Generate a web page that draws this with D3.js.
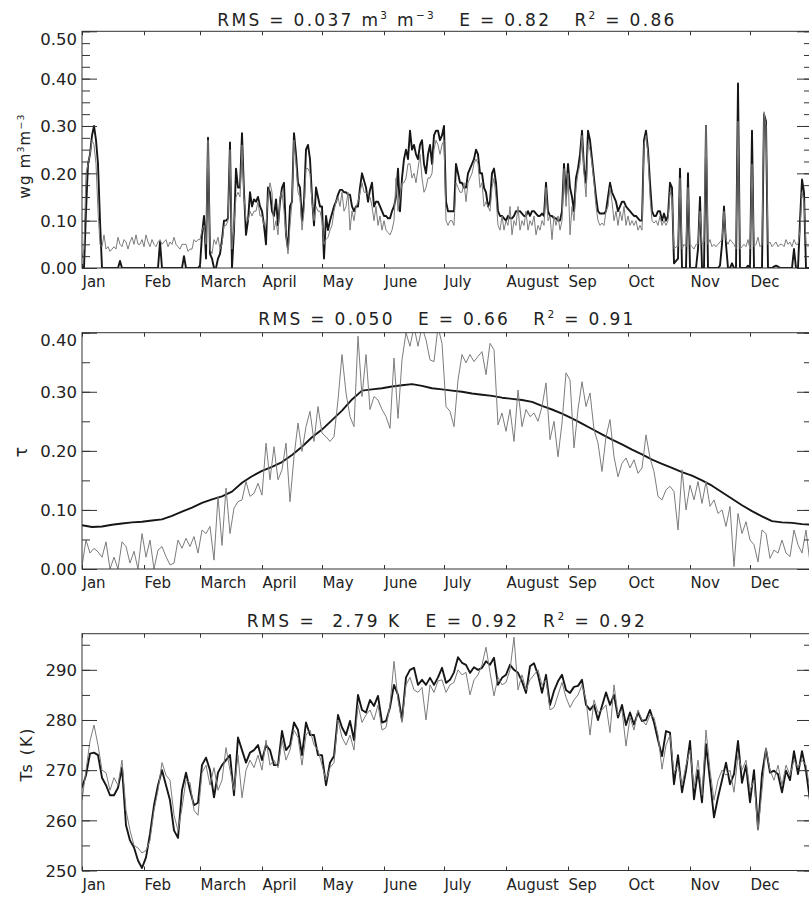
<!DOCTYPE html>
<html>
<head>
<meta charset="utf-8">
<title>Soil moisture, optical depth and surface temperature</title>
<script src="https://d3js.org/d3.v7.min.js"></script>
<style>
  body { margin: 0; background: #fff; }
  svg text { font-family: "DejaVu Sans", sans-serif; fill: #222; }
</style>
</head>
<body>
<svg width="809" height="897"></svg>
<script>
// month labels, placed at the first day of each month (day 0 = 1 Jan)
var months = ["Jan", "Feb", "March", "April", "May", "June", "July", "August", "Sep", "Oct", "Nov", "Dec"];
var monthStart = [0, 31, 59, 90, 120, 151, 181, 212, 243, 273, 304, 334];

// panel 1 : surface soil moisture wg (m3 m-3), one value per day
var wgStep = 1;
var wgModel = [
  0, 0, 0.12, 0.22, 0.24, 0.28, 0.30, 0.27, 0.22, 0.10,
  0, 0, 0, 0, 0, 0, 0, 0, 0, 0.015,
  0, 0, 0, 0, 0, 0, 0, 0, 0, 0,
  0, 0, 0, 0, 0, 0, 0, 0, 0, 0.055,
  0, 0, 0, 0, 0, 0, 0, 0, 0, 0,
  0, 0.025, 0, 0, 0, 0, 0, 0, 0, 0.005,
  0.07, 0.11, 0.02, 0.275, 0.03, 0.02, 0, 0, 0.02, 0.03,
  0.06, 0.10, 0.10, 0.105, 0.265, 0, 0.08, 0.21, 0.17, 0.17,
  0.285, 0.16, 0.07, 0.10, 0.16, 0.13, 0.145, 0.14, 0.15, 0.13,
  0.12, 0.09, 0.05, 0.17, 0.16, 0.12, 0.11, 0.145, 0.09, 0.14,
  0.17, 0.18, 0.07, 0.04, 0.13, 0.14, 0.285, 0.24, 0.18, 0.17,
  0.10, 0.14, 0.25, 0.26, 0.23, 0.15, 0.09, 0.17, 0.15, 0.13,
  0.13, 0.02, 0.11, 0.08, 0.10, 0.115, 0.13, 0.14, 0.155, 0.165,
  0.165, 0.16, 0.16, 0.155, 0.155, 0.13, 0.12, 0.13, 0.13, 0.17,
  0.20, 0.185, 0.17, 0.14, 0.165, 0.18, 0.13, 0.14, 0.14, 0.13,
  0.12, 0.11, 0.11, 0.105, 0.105, 0.12, 0.13, 0.15, 0.21, 0.12,
  0.19, 0.23, 0.25, 0.23, 0.29, 0.25, 0.26, 0.24, 0.23, 0.26,
  0.27, 0.22, 0.20, 0.24, 0.26, 0.22, 0.28, 0.29, 0.29, 0.27,
  0.28, 0.30, 0.14, 0.12, 0.12, 0.12, 0.12, 0.22, 0.20, 0.18,
  0.18, 0.17, 0.17, 0.20, 0.21, 0.22, 0.23, 0.25, 0.24, 0.20,
  0.20, 0.17, 0.16, 0.13, 0.14, 0.20, 0.21, 0.18, 0.12, 0.11,
  0.11, 0.105, 0.10, 0.11, 0.105, 0.105, 0.11, 0.12, 0.12, 0.12,
  0.115, 0.11, 0.11, 0.12, 0.11, 0.12, 0.12, 0.115, 0.11, 0.11,
  0.115, 0.11, 0.18, 0.12, 0.11, 0.11, 0.105, 0.105, 0.10, 0.10,
  0.12, 0.22, 0.15, 0.22, 0.17, 0.15, 0.12, 0.19, 0.21, 0.24,
  0.29, 0.21, 0.18, 0.29, 0.27, 0.23, 0.19, 0.15, 0.12, 0.115,
  0.115, 0.115, 0.12, 0.15, 0.18, 0.16, 0.15, 0.14, 0.12, 0.13,
  0.14, 0.14, 0.13, 0.125, 0.12, 0.115, 0.11, 0.11, 0.105, 0.10,
  0.10, 0.27, 0.29, 0.25, 0.18, 0.12, 0.11, 0.11, 0.12, 0.12,
  0.10, 0.115, 0.10, 0.11, 0.18, 0.17, 0.01, 0.015, 0.02, 0.21,
  0, 0, 0, 0.20, 0, 0, 0, 0, 0.04, 0.15,
  0, 0, 0.30, 0, 0, 0, 0, 0, 0, 0.005,
  0.05, 0.13, 0.05, 0, 0, 0.01, 0, 0, 0.39, 0,
  0, 0, 0, 0.005, 0, 0.29, 0, 0, 0, 0,
  0, 0.325, 0.31, 0, 0, 0, 0.003, 0.005, 0.003, 0,
  0, 0, 0, 0, 0, 0, 0.04, 0, 0, 0.10,
  0.187, 0.16, 0, 0, 0
];
var wgObs = [
  0.02, 0.04, 0.20, 0.22, 0.24, 0.27, 0.26, 0.22, 0.12, 0.05,
  0.045, 0.07, 0.04, 0.045, 0.035, 0.04, 0.045, 0.04, 0.065, 0.05,
  0.045, 0.06, 0.055, 0.04, 0.055, 0.065, 0.05, 0.07, 0.05, 0.05,
  0.06, 0.045, 0.07, 0.055, 0.045, 0.06, 0.05, 0.045, 0.055, 0.06,
  0.05, 0.055, 0.06, 0.045, 0.055, 0.05, 0.065, 0.05, 0.045, 0.04,
  0.05, 0.05, 0.05, 0.035, 0.04, 0.04, 0.06, 0.055, 0.06, 0.06,
  0.08, 0.09, 0.05, 0.27, 0.04, 0.03, 0.06, 0.05, 0.065, 0.04,
  0.05, 0.09, 0.09, 0.10, 0.25, 0.04, 0.09, 0.15, 0.16, 0.15,
  0.26, 0.15, 0.10, 0.10, 0.12, 0.11, 0.12, 0.12, 0.14, 0.11,
  0.11, 0.09, 0.09, 0.15, 0.18, 0.16, 0.08, 0.10, 0.07, 0.15,
  0.16, 0.12, 0.07, 0.03, 0.09, 0.14, 0.27, 0.22, 0.16, 0.15,
  0.08, 0.12, 0.21, 0.21, 0.20, 0.14, 0.10, 0.13, 0.12, 0.12,
  0.10, 0.05, 0.06, 0.065, 0.08, 0.09, 0.12, 0.14, 0.15, 0.13,
  0.16, 0.12, 0.13, 0.16, 0.08, 0.12, 0.10, 0.13, 0.14, 0.16,
  0.18, 0.16, 0.16, 0.155, 0.15, 0.13, 0.10, 0.13, 0.09, 0.11,
  0.08, 0.10, 0.08, 0.075, 0.07, 0.08, 0.10, 0.19, 0.12, 0.15,
  0.18, 0.18, 0.19, 0.22, 0.22, 0.19, 0.20, 0.18, 0.21, 0.24,
  0.19, 0.16, 0.17, 0.19, 0.19, 0.20, 0.25, 0.27, 0.26, 0.24,
  0.26, 0.27, 0.10, 0.09, 0.10, 0.10, 0.09, 0.18, 0.17, 0.16,
  0.16, 0.18, 0.14, 0.18, 0.19, 0.20, 0.22, 0.23, 0.22, 0.17,
  0.18, 0.13, 0.14, 0.13, 0.12, 0.17, 0.19, 0.15, 0.09, 0.08,
  0.11, 0.08, 0.10, 0.09, 0.13, 0.07, 0.10, 0.09, 0.13, 0.08,
  0.10, 0.09, 0.12, 0.08, 0.10, 0.09, 0.11, 0.07, 0.09, 0.08,
  0.10, 0.09, 0.17, 0.10, 0.11, 0.06, 0.11, 0.09, 0.11, 0.08,
  0.10, 0.21, 0.13, 0.20, 0.07, 0.13, 0.10, 0.17, 0.20, 0.22,
  0.28, 0.20, 0.15, 0.26, 0.25, 0.22, 0.18, 0.13, 0.10, 0.09,
  0.095, 0.09, 0.12, 0.13, 0.17, 0.14, 0.10, 0.12, 0.09, 0.12,
  0.10, 0.13, 0.09, 0.11, 0.09, 0.10, 0.09, 0.10, 0.08, 0.09,
  0.08, 0.26, 0.28, 0.24, 0.15, 0.10, 0.095, 0.10, 0.09, 0.11,
  0.09, 0.10, 0.09, 0.10, 0.16, 0.15, 0.04, 0.045, 0.045, 0.19,
  0.04, 0.05, 0.045, 0.17, 0.05, 0.045, 0.04, 0.05, 0.05, 0.12,
  0.05, 0.055, 0.30, 0.05, 0.06, 0.045, 0.05, 0.045, 0.05, 0.055,
  0.06, 0.12, 0.06, 0.05, 0.06, 0.055, 0.05, 0.04, 0.31, 0.04,
  0.045, 0.05, 0.045, 0.06, 0.04, 0.22, 0.045, 0.05, 0.065, 0.045,
  0.05, 0.33, 0.30, 0.05, 0.055, 0.045, 0.05, 0.055, 0.045, 0.05,
  0.05, 0.045, 0.06, 0.05, 0.055, 0.045, 0.06, 0.05, 0.05, 0.08,
  0.16, 0.14, 0.05, 0.045, 0.05
];

// panel 2 : vegetation optical depth tau
var tauModelStep = 5;   // smooth curve, one value every 5 days
var tauModel = [
  0.074, 0.071, 0.072, 0.075, 0.077, 0.079, 0.080, 0.082, 0.084, 0.090,
  0.097, 0.104, 0.112, 0.118, 0.123, 0.131, 0.146, 0.157, 0.166, 0.173,
  0.181, 0.193, 0.207, 0.223, 0.236, 0.252, 0.268, 0.287, 0.302, 0.304,
  0.306, 0.309, 0.311, 0.313, 0.310, 0.306, 0.304, 0.302, 0.300, 0.297,
  0.295, 0.293, 0.290, 0.288, 0.286, 0.283, 0.276, 0.270, 0.263, 0.255,
  0.246, 0.237, 0.228, 0.219, 0.211, 0.202, 0.194, 0.185, 0.178, 0.171,
  0.164, 0.158, 0.150, 0.141, 0.130, 0.119, 0.108, 0.098, 0.089, 0.081,
  0.079, 0.078, 0.076, 0.075
];
var tauStep = 2;        // retrieved values, every 2 days
var tauObs = [
  0.005, 0.049, 0.027, 0.035, 0.029, 0.02, 0.046, 0.0, 0.02, 0.0,
  0.046, 0.038, 0.01, 0.03, 0.0, 0.06, 0.02, 0.049, 0.0, 0.032,
  0.038, 0.021, 0.007, 0.01, 0.049, 0.035, 0.052, 0.038, 0.055, 0.027,
  0.066, 0.06, 0.072, 0.015, 0.123, 0.04, 0.137, 0.06, 0.103, 0.114,
  0.117, 0.148, 0.123, 0.128, 0.145, 0.125, 0.213, 0.151, 0.207, 0.151,
  0.168, 0.213, 0.114, 0.19, 0.247, 0.199, 0.241, 0.267, 0.216, 0.275,
  0.23, 0.224, 0.216, 0.224, 0.286, 0.363, 0.298, 0.258, 0.241, 0.394,
  0.292, 0.363, 0.27, 0.292, 0.286, 0.27, 0.258, 0.238, 0.357, 0.255,
  0.354, 0.40, 0.377, 0.41, 0.377, 0.41, 0.388, 0.354, 0.351, 0.41,
  0.382, 0.275, 0.267, 0.241, 0.32, 0.363, 0.349, 0.363, 0.351, 0.36,
  0.368, 0.329, 0.382, 0.371, 0.244, 0.264, 0.233, 0.27, 0.216, 0.303,
  0.241, 0.27, 0.258, 0.264, 0.25, 0.275, 0.315, 0.219, 0.25, 0.19,
  0.247, 0.332, 0.32, 0.205, 0.27, 0.317, 0.275, 0.298, 0.236, 0.213,
  0.165, 0.224, 0.253, 0.19, 0.156, 0.179, 0.188, 0.171, 0.185, 0.162,
  0.171, 0.227, 0.188, 0.165, 0.123, 0.117, 0.134, 0.14, 0.131, 0.066,
  0.168, 0.10, 0.142, 0.117, 0.148, 0.111, 0.148, 0.106, 0.117, 0.094,
  0.10, 0.072, 0.106, 0.004, 0.094, 0.06, 0.08, 0.049, 0.041, 0.012,
  0.066, 0.06, 0.018, 0.032, 0.027, 0.049, 0.027, 0.021, 0.066, 0.041,
  0.027, 0.066, 0.01
];

// panel 3 : surface temperature Ts (K), every 2 days
var tsStep = 2;
var tsModel = [
  266.5, 269, 273.3, 273.5, 273, 268.5, 267, 265, 265, 266.5,
  270.5, 259, 256, 254.6, 252, 250.5, 252.6, 257.3, 263, 267,
  270, 267, 264, 258, 256.5, 266, 269.5, 266, 263, 263.5,
  271, 272.5, 270, 264.6, 269.5, 271, 272, 273, 265, 276.5,
  274, 271.5, 273.5, 274, 275, 272, 275, 274, 271, 271,
  277.8, 274, 275, 279.5, 278, 273, 279.5, 277, 277, 273,
  273, 267, 271.5, 272.8, 281, 278.5, 277, 279.8, 276, 285,
  282, 281.5, 284, 282.8, 284.8, 279.5, 279.8, 282.5, 287, 285,
  280, 288.5, 290, 290.4, 287, 288, 287, 288.4, 287, 288.5,
  290.4, 287.4, 288, 289.5, 292.5, 291.4, 291, 289.4, 290.5, 290,
  290.4, 291.7, 291, 292.4, 287, 288.4, 289, 291, 290, 289.4,
  287.7, 285.4, 290.7, 291.3, 289, 285.4, 289, 283, 285.8, 287.7,
  289, 286, 285.4, 286.6, 286.8, 288, 283, 282, 283, 280,
  282.8, 285.5, 283, 285, 280.5, 283, 279, 281.5, 279.1, 281.5,
  279.8, 280, 282, 279.5, 276, 272.8, 277.8, 277.5, 267.2, 273,
  265.6, 269.9, 275.8, 264.2, 270, 263.6, 275.2, 268, 260.6, 264.6,
  268, 271.5, 267.2, 269.2, 275.8, 267.5, 271, 263.6, 270, 258.3,
  269.2, 274.2, 269.5, 269.9, 269.2, 265.6, 269.9, 268, 273.8, 269.2,
  273.8, 269.9, 263.9
];
var tsObs = [
  264, 270, 275.8, 279, 275, 270, 269.5, 266, 268.5, 267,
  272, 262, 258, 255, 254.5, 253.5, 254, 256, 262, 266,
  271.5, 269, 268, 261, 258, 262.5, 268, 267.5, 262, 261,
  269.5, 271, 267, 270.5, 266, 268, 274.5, 270, 266, 273,
  264.5, 270, 272, 270.5, 273, 270, 276, 271, 272, 270.5,
  276, 272, 274, 278, 276.5, 271, 277, 278, 275, 274,
  271, 268, 270.5, 271.5, 280, 276.5, 275, 277, 274, 283,
  279.5, 281, 282, 280, 283, 278, 278.5, 283, 291.7, 284,
  279.5, 287, 288.5, 286, 285.5, 286.5, 280, 287, 285.5, 287.8,
  288, 285.5, 287, 287.5, 290, 289, 289.5, 285, 288, 289,
  291, 294.5, 289.5, 284.8, 288.5, 287, 287.5, 290, 296.5, 286,
  289, 286, 288, 289, 290, 287, 288, 282, 282.5, 285,
  287.5, 284.5, 282.5, 284, 285, 287, 284, 277, 284, 281.5,
  282, 283, 277.5, 287, 281, 282, 274.8, 280.5, 278, 282,
  280, 279, 281, 280.5, 277, 270.2, 275, 277, 269.5, 271,
  267, 271, 274, 266.5, 272, 265, 278, 270, 264, 268,
  270, 269, 270, 265.6, 273, 270, 272, 266, 268, 258,
  266, 274.5, 270, 268, 271, 267, 271, 269, 272, 270.5,
  272, 271, 266
];

// tick values and texts
var wgTicks = [0, 0.1, 0.2, 0.3, 0.4, 0.5];
var tauTicks = [0, 0.1, 0.2, 0.3, 0.4];
var tsTicks = [250, 260, 270, 280, 290];

var title1 = [["RMS = 0.037 m"], ["3", 1], [" m"], ["\u22123", 1], ["   E = 0.82   R"], ["2", 1], [" = 0.86"]];
var title2 = [["RMS = 0.050   E = 0.66   R"], ["2", 1], [" = 0.91"]];
var title3 = [["RMS =  2.79 K   E = 0.92   R"], ["2", 1], [" = 0.92"]];
var ylab1 = [["wg m"], ["3", 1], ["m"], ["\u22123", 1]];
var ylab2 = [["\u03c4"]];
var ylab3 = [["Ts (K)"]];

var svg = d3.select("svg");
var x = d3.scaleLinear().domain([0, 365]).range([82, 812]);

var panels = [
  { top: 31.3, bottom: 268, domain: [0, 0.5], ticks: wgTicks, minor: 0.025, fmt: d3.format(".2f"),
    model: wgModel, modelStep: wgStep, obs: wgObs, obsStep: wgStep,
    title: title1, titleY: 26, titleW: 457, ylab: ylab1, ylabX: 30, ylabY: 156, ylabW: 84, ylabSize: 15 },
  { top: 332.7, bottom: 569, domain: [0, 0.4], ticks: tauTicks, minor: 0.05, fmt: d3.format(".2f"),
    model: tauModel, modelStep: tauModelStep, obs: tauObs, obsStep: tauStep,
    title: title2, titleY: 325, titleW: 375, ylab: ylab2, ylabX: 27, ylabY: 452, ylabW: 0, ylabSize: 17 },
  { top: 633.7, bottom: 870.5, domain: [250, 297.2], ticks: tsTicks, minor: 5, fmt: d3.format("d"),
    model: tsModel, modelStep: tsStep, obs: tsObs, obsStep: tsStep,
    title: title3, titleY: 627, titleW: 398, ylab: ylab3, ylabX: 32, ylabY: 754, ylabW: 53, ylabSize: 16 }
];

// writes text with superscripts, then spreads it to a target width
function richText(sel, parts, size, width) {
  var t = sel.append("text").attr("font-size", size).style("white-space", "pre");
  var shift = size * 0.42;
  var up = false;
  parts.forEach(function(p) {
    var s = t.append("tspan").text(p[0]);
    if (p[1]) s.attr("font-size", size * 0.62).attr("dy", -shift);
    else if (up) s.attr("dy", shift);
    up = !!p[1];
  });
  if (width) {
    var len = t.node().getComputedTextLength();
    var n = parts.map(function(p) { return p[0]; }).join("").length;
    t.style("letter-spacing", ((width - len) / (n - 1)) + "px");
  }
  return t;
}

panels.forEach(function(p, i) {
  var y = d3.scaleLinear().domain(p.domain).range([p.bottom, p.top]);
  var g = svg.append("g");

  g.append("clipPath").attr("id", "clip" + i)
    .append("rect")
    .attr("x", x(0)).attr("y", p.top)
    .attr("width", x(365) - x(0)).attr("height", p.bottom - p.top);

  var line = function(step) {
    return d3.line().x(function(d, j) { return x(j * step); }).y(function(d) { return y(d); });
  };

  // thick dark curve first, thin grey one on top
  g.append("path").datum(p.model)
    .attr("clip-path", "url(#clip" + i + ")")
    .attr("fill", "none").attr("stroke", "#161616").attr("stroke-width", 1.9)
    .attr("stroke-linejoin", "round")
    .attr("d", line(p.modelStep));
  g.append("path").datum(p.obs)
    .attr("clip-path", "url(#clip" + i + ")")
    .attr("fill", "none").attr("stroke", "#7c7c7c").attr("stroke-width", 1)
    .attr("d", line(p.obsStep));

  var minors = d3.range(p.domain[0], p.domain[1] + 1e-9, p.minor);

  // left axis: major ticks with labels, minor ticks
  var left = g.append("g").attr("transform", "translate(" + x(0) + ",0)").attr("color", "#333");
  left.append("g")
    .call(d3.axisLeft(y).tickValues(minors).tickSize(-8).tickSizeOuter(0).tickFormat(""))
    .call(function(a) { a.select(".domain").remove(); });
  left.append("g")
    .call(d3.axisLeft(y).tickValues(p.ticks).tickSize(-15).tickSizeOuter(0).tickPadding(5).tickFormat(p.fmt))
    .attr("font-size", 16.5)
    .call(function(a) { a.select(".domain").remove(); })
    .selectAll(".tick text")
    .attr("dy", function(d) { return d >= p.domain[1] ? "0.8em" : "0.35em"; });

  // right axis, ticks only
  var right = g.append("g").attr("transform", "translate(" + x(365) + ",0)").attr("color", "#333");
  right.append("g")
    .call(d3.axisRight(y).tickValues(minors).tickSize(-8).tickSizeOuter(0).tickFormat(""))
    .call(function(a) { a.select(".domain").remove(); });
  right.append("g")
    .call(d3.axisRight(y).tickValues(p.ticks).tickSize(-15).tickSizeOuter(0).tickFormat(""))
    .call(function(a) { a.select(".domain").remove(); });

  // month ticks on top and bottom, labels below
  g.append("g").attr("transform", "translate(0," + p.top + ")").attr("color", "#333")
    .call(d3.axisTop(x).tickValues(monthStart).tickSize(-4).tickSizeOuter(0).tickFormat(""))
    .call(function(a) { a.select(".domain").remove(); });
  g.append("g").attr("transform", "translate(0," + p.bottom + ")").attr("color", "#333")
    .call(d3.axisBottom(x).tickValues(monthStart).tickSize(-4).tickSizeOuter(0)
      .tickFormat(function(d, j) { return months[j]; }))
    .attr("font-size", 15)
    .call(function(a) { a.select(".domain").remove(); })
    .selectAll(".tick text")
    .attr("y", 19).attr("dy", null).attr("x", 0)
    .attr("text-anchor", "start");

  // frame
  g.append("rect")
    .attr("x", x(0)).attr("y", p.top)
    .attr("width", x(365) - x(0)).attr("height", p.bottom - p.top)
    .attr("fill", "none").attr("stroke", "#333").attr("stroke-width", 1);

  // title
  var tg = g.append("g").attr("transform", "translate(" + ((x(0) + x(365)) / 2) + "," + p.titleY + ")");
  richText(tg, p.title, 17, p.titleW).attr("text-anchor", "middle");

  // y label
  var yg = g.append("g").attr("transform", "translate(" + p.ylabX + "," + p.ylabY + ") rotate(-90)");
  richText(yg, p.ylab, p.ylabSize, p.ylabW).attr("text-anchor", "middle");
});
</script>
</body>
</html>
